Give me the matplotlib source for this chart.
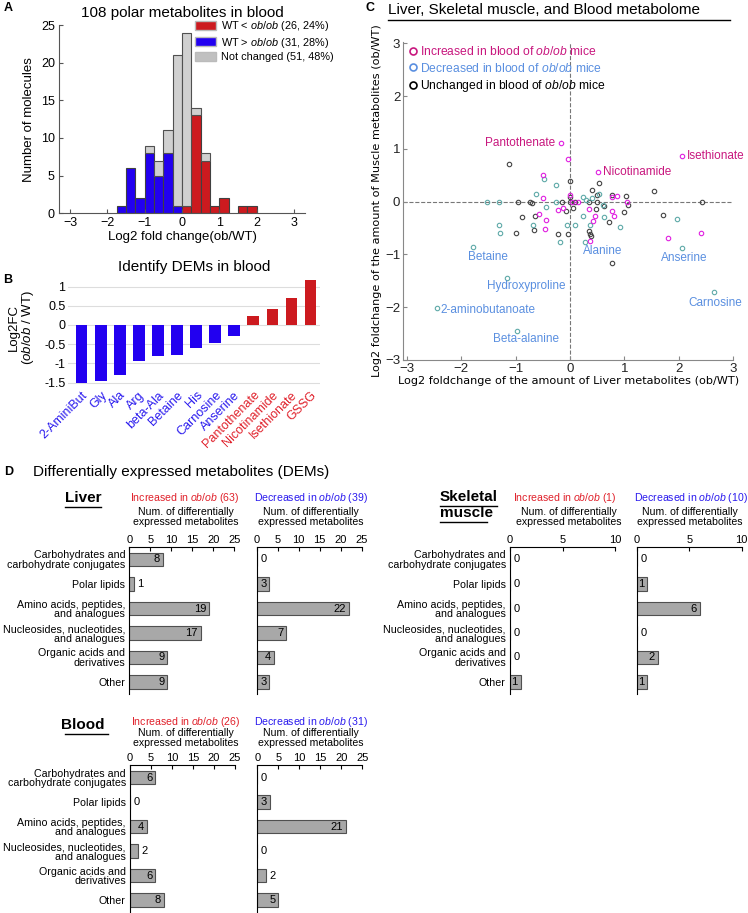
import numpy as np
import matplotlib
matplotlib.use('Agg')
import matplotlib.pyplot as plt
from matplotlib.lines import Line2D
from matplotlib.patches import Patch

plt.rcParams['font.family'] = ['Liberation Sans', 'DejaVu Sans']
plt.rcParams['mathtext.fontset'] = 'custom'
plt.rcParams['mathtext.rm'] = 'Liberation Sans'
plt.rcParams['mathtext.it'] = 'Liberation Sans:italic'

W, H = 748, 913

# --- A: histogram of log2 fold change (bin width 0.25) ---
hist_left = [-1.75, -1.5, -1.25, -1.0, -0.75, -0.5, -0.25, 0.0, 0.25, 0.5, 0.75, 1.0, 1.25, 1.5, 1.75]
hist_blue = [1, 6, 2, 8, 5, 8, 1, 0, 0, 0, 0, 0, 0, 0, 0]
hist_red = [0, 0, 0, 0, 0, 0, 0, 1, 13, 7, 1, 2, 0, 1, 1]
hist_gray = [0, 0, 0, 1, 2, 3, 20, 23, 1, 1, 0, 0, 0, 0, 0]

# --- B: DEMs in blood ---
dem_names = ['2-AminiBut', 'Gly', 'Ala', 'Arg', 'beta-Ala', 'Betaine', 'His',
             'Carnosine', 'Anserine', 'Pantothenate', 'Nicotinamide', 'Isethionate', 'GSSG']
dem_fc = [-1.5, -1.45, -1.3, -0.95, -0.8, -0.77, -0.6, -0.47, -0.3, 0.24, 0.41, 0.70, 1.16]

# --- C: liver vs muscle log2FC ---
inc_x = [-0.17, -0.03, 2.05, 0.51, -0.5, -0.5, -0.01, 0.03, 0.15, -0.57, -0.45, -0.46, -0.22,
         -0.13, 0.35, 0.45, 0.43, 0.37, 0.78, 0.87, 0.77, 0.81, 1.05, 1.8, 2.4]
inc_y = [1.11, 0.8, 0.86, 0.56, 0.51, 0.06, 0.12, 0.0, 0.0, -0.24, -0.35, -0.51, -0.16,
         -0.12, -0.13, -0.27, -0.36, -0.74, 0.09, 0.1, -0.17, -0.28, 0.0, -0.69, -0.6]
inc_names = {0: 'Pantothenate', 2: 'Isethionate', 3: 'Nicotinamide'}

dec_x = [-1.79, -1.16, -2.45, -0.97, 2.65, 0.28, 2.06, -1.53, -1.31, -1.31, -1.28, -0.63, -0.47,
         -0.26, -0.26, -0.45, -0.69, -0.18, -0.06, 0.09, 0.24, 0.29, 0.41, 0.53, 0.61, 0.62,
         0.24, 0.36, 0.92, 1.96]
dec_y = [-0.85, -1.45, -2.02, -2.46, -1.71, -0.76, -0.87, 0.0, 0.0, -0.45, -0.59, 0.14, 0.43,
         0.32, 0.0, -0.11, -0.44, -0.77, -0.45, -0.45, 0.08, 0.03, 0.06, 0.14, -0.07, -0.3,
         -0.28, -0.44, -0.48, -0.32]
dec_names = {0: 'Betaine', 1: 'Hydroxyproline', 2: '2-aminobutanoate', 3: 'Beta-alanine',
             4: 'Carnosine', 5: 'Alanine', 6: 'Anserine'}

unc_x = [-1.13, -0.96, -0.73, -0.7, -0.88, -0.64, -0.66, -1.0, -0.23, -0.04, -0.07, -0.14, -0.01,
         0.0, 0.0, 0.06, 0.09, 0.34, 0.4, 0.47, 0.5, 0.49, 0.54, 0.34, 0.36, 0.39, 0.62, 0.72,
         0.77, 0.77, 1.03, 1.0, 1.06, 1.54, 1.71, 2.43]
unc_y = [0.72, 0.0, 0.0, -0.02, -0.3, -0.28, -0.54, -0.6, -0.62, -0.61, -0.17, 0.0, 0.4,
         0.09, 0.0, -0.12, 0.0, 0.0, 0.23, -0.13, 0.13, 0.0, 0.35, -0.56, -0.62, -0.66, -0.09,
         -0.38, 0.13, -1.17, 0.1, -0.19, -0.06, 0.2, -0.26, -0.01]

# label offsets in pixels (dx right, dy down) and alignment
label_style = {
    'Pantothenate': (-6, 0, 'right'), 'Isethionate': (5, 0, 'left'),
    'Nicotinamide': (5, 0, 'left'), 'Betaine': (15, 10, 'center'),
    'Hydroxyproline': (19, 8, 'center'), '2-aminobutanoate': (4, 2, 'left'),
    'Beta-alanine': (9, 8, 'center'), 'Alanine': (17, 9, 'center'),
    'Anserine': (2, 10, 'center'), 'Carnosine': (1, 11, 'center'),
}

# --- D: DEM classes ---
dem_classes = ['Carbohydrates and\ncarbohydrate conjugates', 'Polar lipids',
               'Amino acids, peptides,\nand analogues', 'Nucleosides, nucleotides,\nand analogues',
               'Organic acids and\nderivatives', 'Other']
liver_up = [8, 1, 19, 17, 9, 9]
liver_down = [0, 3, 22, 7, 4, 3]
muscle_up = [0, 0, 0, 0, 0, 1]
muscle_down = [0, 1, 6, 0, 2, 1]
blood_up = [6, 0, 4, 2, 6, 8]
blood_down = [0, 3, 21, 0, 2, 5]

RED = '#CC1A1F'
BLUE = '#2200F0'
GRAYBAR = '#D0D0D0'
TXT_RED = '#E0202A'
TXT_BLUE = '#2A1AEE'


def rect(l, t, r, b):
    return [l / W, 1 - b / H, (r - l) / W, (b - t) / H]


def ftext(x, y, s, **kw):
    fig.text(x / W, 1 - y / H, s, **kw)


def hline(x0, x1, y, lw=1.0, color='black'):
    fig.add_artist(Line2D([x0 / W, x1 / W], [1 - y / H, 1 - y / H], lw=lw, color=color))


fig = plt.figure(figsize=(W / 100, H / 100), dpi=100)

# ================= A =================
ax = fig.add_axes(rect(59, 25, 305, 213.3))
left = np.array(hist_left)
blue = np.array(hist_blue)
red = np.array(hist_red)
gray = np.array(hist_gray)
m = blue > 0
ax.bar(left[m], blue[m], width=0.25, align='edge', color=BLUE, edgecolor='#404040', lw=0.8)
m = red > 0
ax.bar(left[m], red[m], width=0.25, align='edge', color=RED, edgecolor='#404040', lw=0.8)
m = gray > 0
ax.bar(left[m], gray[m], bottom=(blue + red)[m], width=0.25, align='edge', color=GRAYBAR,
       edgecolor='#505050', lw=0.8)
ax.set_xlim(-3.3, 3.3)
ax.set_ylim(0, 25)
ax.set_xticks(range(-3, 4))
ax.set_yticks(range(0, 26, 5))
for s in ['top', 'right']:
    ax.spines[s].set_visible(False)
for s in ['left', 'bottom']:
    ax.spines[s].set_color('#555555')
ax.tick_params(direction='in', length=3, labelsize=9, color='#555555', pad=3)
ax.set_xlabel('Log2 fold change(ob/WT)', fontsize=9.5, labelpad=1)
ax.set_ylabel('Number of molecules', fontsize=9.5, labelpad=4)
ax.set_title('108 polar metabolites in blood', fontsize=11, pad=6)
handles = [Patch(fc=RED, ec='#BBBBBB'), Patch(fc=BLUE, ec='#BBBBBB'), Patch(fc='#C0C0C0', ec='#BBBBBB')]
labels = ['WT < $\\it{ob/ob}$ (26, 24%)', 'WT > $\\it{ob/ob}$ (31, 28%)', 'Not changed (51, 48%)']
ax.legend(handles, labels, loc='upper right', bbox_to_anchor=(1.115, 1.03), frameon=False,
          fontsize=7.8, handlelength=2.0, handleheight=0.9, handletextpad=0.4,
          labelspacing=0.2, borderaxespad=0, borderpad=0)

# ================= B =================
ax = fig.add_axes(rect(68.3, 278.9, 320, 386.4))
xb = np.arange(len(dem_names))
cols = [BLUE if v < 0 else RED for v in dem_fc]
ax.bar(xb, dem_fc, width=0.61, color=cols, edgecolor='none', zorder=2)
ax.set_xlim(-0.7, 12.5)
ax.set_ylim(-1.6, 1.2)
ax.set_yticks([-1.5, -1, -0.5, 0, 0.5, 1])
ax.set_yticklabels(['-1.5', '-1', '-0.5', '0', '0.5', '1'])
ax.yaxis.grid(True, color='#DDDDDD', lw=0.8, zorder=0)
for s in ax.spines.values():
    s.set_visible(False)
ax.set_xticks(xb)
ax.set_xticklabels(dem_names, rotation=45, ha='right', va='top', rotation_mode='anchor', fontsize=9)
for lbl, c in zip(ax.get_xticklabels(), cols):
    lbl.set_color(TXT_BLUE if c == BLUE else TXT_RED)
ax.tick_params(length=0, labelsize=9, pad=2)
ax.set_ylabel('Log2FC\n($\\it{ob/ob}$ / WT)', fontsize=9.5, linespacing=1.0)
ax.yaxis.set_label_coords(-0.13, 0.55)
ax.set_title('Identify DEMs in blood', fontsize=11, pad=6)

# ================= C =================
ax = fig.add_axes(rect(403, 41.7, 733.3, 360))
ax.axhline(0, color='#777777', ls='--', lw=0.8, zorder=0)
ax.axvline(0, color='#777777', ls='--', lw=0.8, zorder=0)
mk = dict(ls='none', marker='o', mfc='none', ms=3.2, mew=0.8)
ax.plot(unc_x, unc_y, mec='#444444', **mk)
ax.plot(dec_x, dec_y, mec='#5FAAA8', **mk)
ax.plot(inc_x, inc_y, mec='#E020E0', **mk)
for names, xs, ys, col in [(inc_names, inc_x, inc_y, '#C8177E'), (dec_names, dec_x, dec_y, '#5A8FE0')]:
    for i, nm in names.items():
        dx, dy, ha = label_style[nm]
        ax.annotate(nm, (xs[i], ys[i]), xytext=(dx * 0.72, -dy * 0.72), textcoords='offset points',
                    ha=ha, va='center', fontsize=8.5, color=col)
ax.set_xlim(-3.07, 3.0)
ax.set_ylim(-3, 3.03)
ax.set_xticks(range(-3, 4))
ax.set_yticks(range(-3, 4))
for s in ['top', 'right']:
    ax.spines[s].set_visible(False)
for s in ['left', 'bottom']:
    ax.spines[s].set_color('#888888')
ax.tick_params(direction='in', length=3, labelsize=9.5, color='#888888', labelcolor='#222222', pad=2)
ax.set_xlabel('Log2 foldchange of the amount of Liver metabolites (ob/WT)', fontsize=8.1,
              family='DejaVu Sans', labelpad=1)
ax.set_ylabel('Log2 foldchange of the amount of Muscle metabolites (ob/WT)', fontsize=8.1,
              family='DejaVu Sans', labelpad=2)
leg_cols = ['#C8177E', '#5A8FE0', 'black']
handles = [Line2D([], [], ls='none', marker='o', mfc='none', mec=c, ms=5, mew=1.2) for c in leg_cols]
labels = ['Increased in blood of $\\it{ob/ob}$ mice', 'Decreased in blood of $\\it{ob/ob}$ mice',
          'Unchanged in blood of $\\it{ob/ob}$ mice']
ax.legend(handles, labels, loc='upper left', bbox_to_anchor=(0.02, 0.99), frameon=False,
          fontsize=8.7, handlelength=0.6, handletextpad=0.3, labelspacing=0.3,
          borderaxespad=0, borderpad=0, labelcolor=leg_cols)

# ================= D =================
def dem_panel(l, t, r, b, values, xmax, show_cats):
    ax = fig.add_axes(rect(l, t, r, b))
    yy = np.arange(len(values))
    ax.barh(yy, values, height=0.55, color='#A8A8A8', edgecolor='#505050', lw=0.8)
    ax.set_xlim(0, xmax)
    ax.set_ylim(len(values) - 0.5, -0.5)
    ax.xaxis.tick_top()
    ax.set_xticks(range(0, xmax + 1, 5))
    for s in ['right', 'bottom']:
        ax.spines[s].set_visible(False)
    ax.tick_params(axis='x', direction='in', length=3, labelsize=8, pad=1.5)
    ax.tick_params(axis='y', length=0, labelsize=7.7, pad=3)
    if show_cats:
        ax.set_yticks(yy)
        ax.set_yticklabels(dem_classes)
        for lbl in ax.get_yticklabels():
            lbl.set_linespacing(0.95)
    else:
        ax.set_yticks([])
    ppu = (r - l) / xmax
    for yi, v in zip(yy, values):
        if v * ppu >= 10:
            ax.annotate(str(v), (v, yi), xytext=(-2, 0), textcoords='offset points',
                        ha='right', va='center', fontsize=8)
        else:
            ax.annotate(str(v), (v, yi), xytext=(2.5, 0), textcoords='offset points',
                        ha='left', va='center', fontsize=8)
    return ax


rowh = 24.5
lt = 559.5 - rowh / 2
lb = 559.5 + 5.5 * rowh
dem_panel(129.3, lt, 234.3, lb, liver_up, 25, True)
dem_panel(256.7, lt, 361.7, lb, liver_down, 25, False)
dem_panel(510, lt, 615, lb, muscle_up, 10, True)
dem_panel(636.7, lt, 741.7, lb, muscle_down, 10, False)
bt = 777.7 - rowh / 2
bb = 777.7 + 5.5 * rowh
dem_panel(130, bt, 235, bb, blood_up, 25, True)
dem_panel(257.3, bt, 362.3, bb, blood_down, 25, False)

num_txt = 'Num. of differentially\nexpressed metabolites'
hdr = [
    (185, 498, 186, 517, 'Increased in $\\it{ob/ob}$ (63)', TXT_RED),
    (311, 498, 311, 517, 'Decreased in $\\it{ob/ob}$ (39)', TXT_BLUE),
    (564.5, 498, 568.5, 517, 'Increased in $\\it{ob/ob}$ (1)', TXT_RED),
    (690.5, 498, 690, 517, 'Decreased in $\\it{ob/ob}$ (10)', TXT_BLUE),
    (185.3, 721.7, 186, 738.3, 'Increased in $\\it{ob/ob}$ (26)', TXT_RED),
    (311, 721.7, 311, 738.3, 'Decreased in $\\it{ob/ob}$ (31)', TXT_BLUE),
]
for hx, hy, nx, ny, s, c in hdr:
    ftext(hx, hy, s, ha='center', va='center', fontsize=7.6, color=c)
    ftext(nx, ny, num_txt, ha='center', va='center', fontsize=7.6, linespacing=1.0)

ftext(83, 498, 'Liver', ha='center', va='center', fontsize=11, weight='bold')
hline(65, 101, 507)
ftext(83, 725, 'Blood', ha='center', va='center', fontsize=11, weight='bold')
hline(65, 108, 734)
ftext(440, 497, 'Skeletal', ha='left', va='center', fontsize=11, weight='bold')
hline(440, 497, 506)
ftext(440, 513, 'muscle', ha='left', va='center', fontsize=11, weight='bold')
hline(440, 487, 522)

# titles and panel letters
ftext(33.3, 472, 'Differentially expressed metabolites (DEMs)', ha='left', va='center', fontsize=11)
ftext(388, 10, 'Liver, Skeletal muscle, and Blood metabolome', ha='left', va='center', fontsize=11)
hline(388, 730, 20)
ftext(4, 8, 'A', ha='left', va='center', fontsize=9, weight='bold')
ftext(3, 280, 'B', ha='left', va='center', fontsize=9, weight='bold')
ftext(365, 8, 'C', ha='left', va='center', fontsize=9, weight='bold')
ftext(4, 472, 'D', ha='left', va='center', fontsize=9, weight='bold')

fig.savefig('out.png', dpi=100)
